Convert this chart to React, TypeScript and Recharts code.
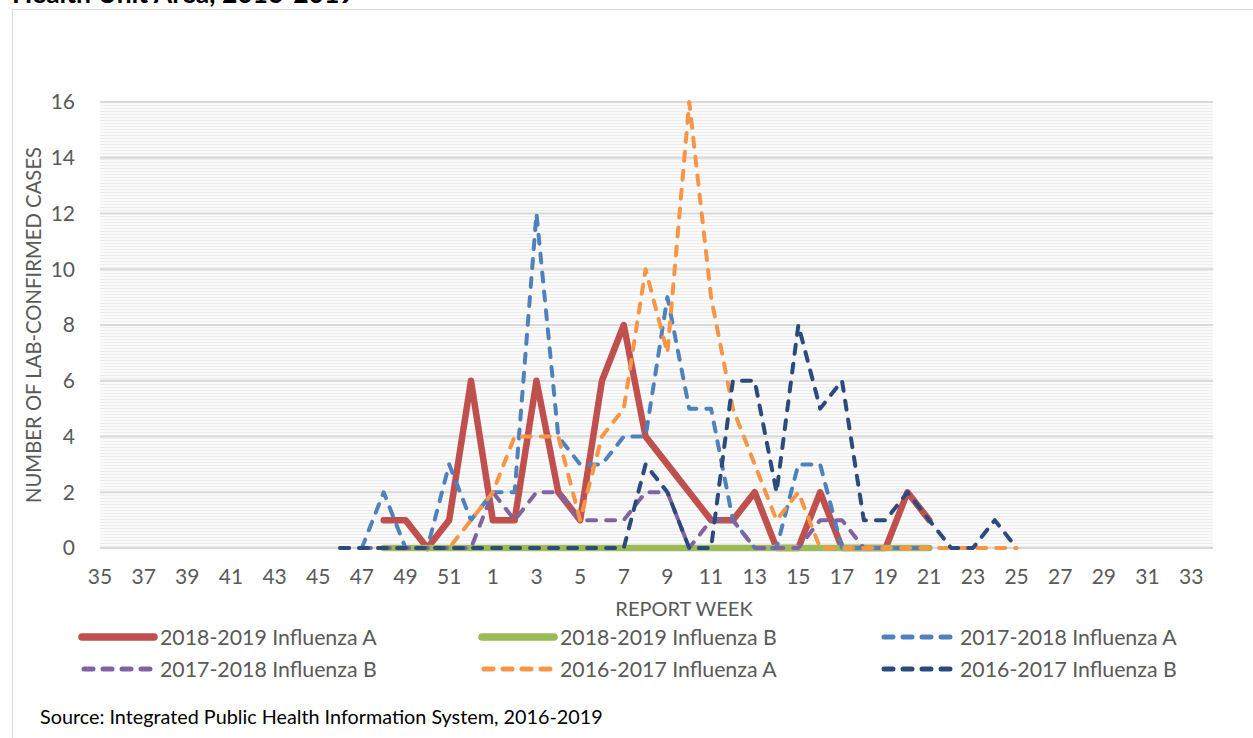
import { CartesianGrid, Line, LineChart, XAxis, YAxis } from 'recharts';

// report weeks, season runs from week 35 to week 34 of next year
const WEEKS = [
  35, 36, 37, 38, 39, 40, 41, 42, 43, 44, 45, 46, 47, 48, 49, 50, 51, 52,
  1, 2, 3, 4, 5, 6, 7, 8, 9, 10, 11, 12, 13, 14, 15, 16, 17, 18, 19, 20,
  21, 22, 23, 24, 25, 26, 27, 28, 29, 30, 31, 32, 33, 34,
];
const Y_TICKS = [0, 2, 4, 6, 8, 10, 12, 14, 16];

// each season's counts, listed from its first reported week
const FLU_A_1819 = [1, 1, 0, 1, 6, 1, 1, 6, 2, 1, 6, 8, 4, 3, 2, 1, 1, 2, 0, 0, 2, 0, 0, 0, 2, 1]; // wk 48 on
const FLU_B_1819 = [0, 0, 0, 0, 0, 0, 0, 0, 0, 0, 0, 0, 0, 0, 0, 0, 0, 0, 0, 0, 0, 0, 0, 0, 0, 0]; // wk 48 on
const FLU_A_1718 = [0, 2, 0, 0, 3, 1, 2, 2, 12, 4, 3, 3, 4, 4, 9, 5, 5, 1, 0, 0, 3, 3, 0, 0, 0, 0, 0]; // wk 47 on
const FLU_B_1718 = [0, 0, 0, 0, 0, 0, 2, 1, 2, 2, 1, 1, 1, 2, 2, 0, 1, 1, 0, 0, 0, 1, 1, 0, 0, 0, 0]; // wk 47 on
const FLU_A_1617 = [0, 0, 0, 0, 0, 0, 1, 2, 4, 4, 4, 1, 4, 5, 10, 7, 16, 9, 5, 3, 1, 2, 0, 0, 0, 0, 0, 0, 0, 0, 0, 0]; // wk 46 on
const FLU_B_1617 = [0, 0, 0, 0, 0, 0, 0, 0, 0, 0, 0, 0, 0, 0, 3, 2, 0, 0, 6, 6, 2, 8, 5, 6, 1, 1, 2, 1, 0, 0, 1, 0]; // wk 46 on

const FONT = 'Lato, "Open Sans", sans-serif';
const GREY = '#595959';
const DASH = '9 10';

type Series = {
  key: string;
  name: string;
  values: number[];
  firstWeek: number;
  color: string;
  width: number;
  dashed: boolean;
};

const SERIES: Series[] = [
  { key: 'a1819', name: '2018-2019 Influenza A', values: FLU_A_1819, firstWeek: 48, color: '#C0504D', width: 6.5, dashed: false },
  { key: 'b1819', name: '2018-2019 Influenza B', values: FLU_B_1819, firstWeek: 48, color: '#9BBB59', width: 6.5, dashed: false },
  { key: 'a1718', name: '2017-2018 Influenza A', values: FLU_A_1718, firstWeek: 47, color: '#4F81BD', width: 4, dashed: true },
  { key: 'b1718', name: '2017-2018 Influenza B', values: FLU_B_1718, firstWeek: 47, color: '#8064A2', width: 4, dashed: true },
  { key: 'a1617', name: '2016-2017 Influenza A', values: FLU_A_1617, firstWeek: 46, color: '#F79646', width: 4, dashed: true },
  { key: 'b1617', name: '2016-2017 Influenza B', values: FLU_B_1617, firstWeek: 46, color: '#2A4B7C', width: 4, dashed: true },
];

const rows = WEEKS.map((week, i) => {
  const row: Record<string, number | string | null> = { week: String(week) };
  for (const s of SERIES) {
    const offset = i - WEEKS.indexOf(s.firstWeek);
    row[s.key] = offset >= 0 && offset < s.values.length ? s.values[offset] : null;
  }
  return row;
});

function LegendItem({ s, left, top }: { s: Series; left: number; top: number }) {
  return (
    <div style={{ position: 'absolute', left, top, display: 'flex', alignItems: 'center' }}>
      <svg width={80} height={12} style={{ marginRight: 2 }}>
        <line
          x1={s.dashed ? 6 : 4}
          x2={76}
          y1={6}
          y2={6}
          stroke={s.color}
          strokeWidth={s.dashed ? 5 : 7.5}
          strokeLinecap="round"
          strokeDasharray={s.dashed ? '9 10' : undefined}
        />
      </svg>
      <span style={{ fontSize: 21.3, color: GREY, fontFamily: FONT, lineHeight: '24px' }}>{s.name}</span>
    </div>
  );
}

export default function App() {
  return (
    <div
      style={{
        position: 'absolute',
        left: 0,
        top: 0,
        width: 1253,
        height: 738,
        overflow: 'hidden',
        background: '#fff',
        fontFamily: FONT,
      }}
    >
      <div
        style={{
          position: 'absolute',
          left: 12,
          top: 9,
          width: 1400,
          height: 900,
          border: '1px solid #d9d9d9',
        }}
      />
      <svg width={1253} height={30} style={{ position: 'absolute', left: 0, top: 0 }}>
        <text x={12} y={3} fontSize={26.5} fontWeight={700} fill="#000" fontFamily={FONT}>
          Health Unit Area, 2016-2019
        </text>
      </svg>

      <div style={{ position: 'absolute', left: 0, top: 0 }}>
        <LineChart width={1253} height={640} data={rows} margin={{ top: 102, right: 40, bottom: 40, left: 0 }}>
          <defs>
            <pattern id="stripes" width={8} height={3} patternUnits="userSpaceOnUse">
              <rect width={8} height={3} fill="#fafafa" />
              <rect width={8} height={1} fill="#eeeeee" />
            </pattern>
          </defs>
          <CartesianGrid vertical={false} stroke="#d9d9d9" strokeWidth={2} fill="url(#stripes)" />
          <XAxis
            dataKey="week"
            height={52}
            interval={1}
            axisLine={false}
            tickLine={false}
            tickMargin={15}
            tick={{ fill: GREY, fontSize: 21, fontFamily: FONT }}
            label={{
              content: () => (
                <text x={684} y={616} textAnchor="middle" fill={GREY} fontSize={20} fontFamily={FONT}>
                  REPORT WEEK
                </text>
              ),
            }}
          />
          <YAxis
            width={100}
            domain={[0, 16]}
            ticks={Y_TICKS}
            axisLine={false}
            tickLine={false}
            tickMargin={19}
            tick={{ fill: GREY, fontSize: 21, fontFamily: FONT }}
            label={{
              content: () => (
                <text
                  x={33}
                  y={325}
                  transform="rotate(-90 33 325)"
                  textAnchor="middle"
                  dominantBaseline="central"
                  fill={GREY}
                  fontSize={20.3}
                  fontFamily={FONT}
                >
                  NUMBER OF LAB-CONFIRMED CASES
                </text>
              ),
            }}
          />
          {SERIES.map((s) => (
            <Line
              key={s.key}
              type="linear"
              dataKey={s.key}
              name={s.name}
              stroke={s.color}
              strokeWidth={s.width}
              strokeDasharray={s.dashed ? DASH : undefined}
              strokeLinecap="round"
              strokeLinejoin="round"
              dot={false}
              activeDot={false}
              connectNulls={false}
              isAnimationActive={false}
            />
          ))}
        </LineChart>
      </div>

      {SERIES.map((s, i) => (
        <LegendItem key={s.key} s={s} left={78 + (i % 3) * 400} top={625 + Math.floor(i / 3) * 32} />
      ))}

      <svg width={1253} height={40} style={{ position: 'absolute', left: 0, top: 700 }}>
        <text x={40} y={24} fontSize={19.8} fill="#000" fontFamily={FONT}>
          Source: Integrated Public Health Information System, 2016-2019
        </text>
      </svg>
    </div>
  );
}
